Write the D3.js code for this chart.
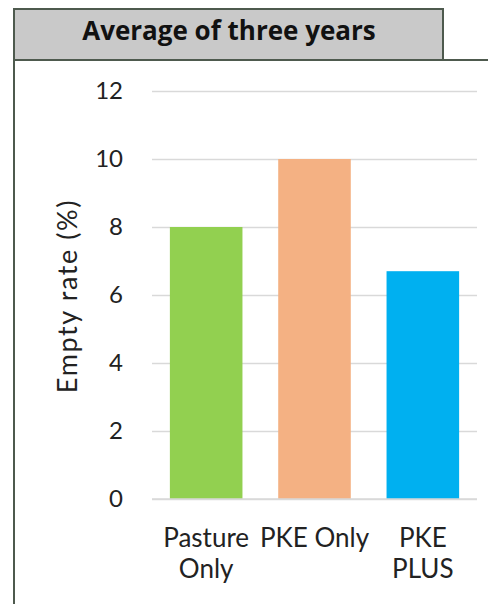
<!DOCTYPE html>
<html><head><meta charset="utf-8">
<script src="https://cdn.jsdelivr.net/npm/d3@7"></script>
<style>body{margin:0;background:#fff}svg{display:block}</style>
</head><body>
<script>
const categories = [["Pasture","Only"],["PKE Only"],["PKE","PLUS"]];
const values = [8.0, 10.0, 6.7];
const colors = ["#92d050","#f4b183","#00b0f0"];
const yTicks = [0,2,4,6,8,10,12];
const title = "Average of three years";
const yTitle = "Empty rate (%)";

const W=488,H=604;
const svg=d3.select("body").append("svg").attr("width",W).attr("height",H);
const font="Lato, 'Open Sans', sans-serif";
const frame="#4e5a4e";

// title box
svg.append("rect").attr("x",14).attr("y",9).attr("width",429).attr("height",51)
  .attr("fill","#c9c9c9").attr("stroke",frame).attr("stroke-width",2);
svg.append("line").attr("x1",443).attr("x2",488).attr("y1",60).attr("y2",60).attr("stroke",frame).attr("stroke-width",2);
svg.append("line").attr("x1",14).attr("x2",14).attr("y1",60).attr("y2",604).attr("stroke",frame).attr("stroke-width",2);
svg.append("text").attr("x",229).attr("y",40).attr("text-anchor","middle")
  .attr("font-family","'Open Sans', sans-serif").attr("font-weight","bold").attr("font-size",26).attr("fill","#111").text(title);

const x=d3.scaleBand().domain(d3.range(values.length)).range([152,477]).paddingInner(0.33).paddingOuter(0.165);
const y=d3.scaleLinear().domain([0,12]).range([499,91]);

const yAxis=svg.append("g").attr("transform","translate(152,0)")
  .call(d3.axisLeft(y).tickValues(yTicks).tickSize(-325).tickPadding(29));
yAxis.select(".domain").remove();
yAxis.selectAll(".tick line").attr("stroke","#d9d9d9").attr("stroke-width",1.3);
yAxis.selectAll(".tick text").attr("font-family",font).attr("font-size",24).attr("fill","#222");

svg.append("g").selectAll("rect").data(values).join("rect")
  .attr("x",(d,i)=>x(i)).attr("width",x.bandwidth())
  .attr("y",d=>y(d)).attr("height",d=>y(0)-y(d))
  .attr("fill",(d,i)=>colors[i]);

svg.append("line").attr("x1",152).attr("x2",477).attr("y1",y(0)).attr("y2",y(0)).attr("stroke","#d9d9d9").attr("stroke-width",1.3);

const xl=svg.append("g");
categories.forEach((lines,i)=>{
  const t=xl.append("text").attr("text-anchor","middle").attr("font-family",font).attr("font-size",26).attr("fill","#222");
  lines.forEach((s,j)=>t.append("tspan").attr("x",x(i)+x.bandwidth()/2).attr("y",547+j*31).text(s));
});

svg.append("text").attr("transform","translate(77,296) rotate(-90)").attr("text-anchor","middle")
  .attr("font-family",font).attr("font-size",27).attr("letter-spacing",1.6).attr("fill","#222").text(yTitle);
</script>
</body></html>
